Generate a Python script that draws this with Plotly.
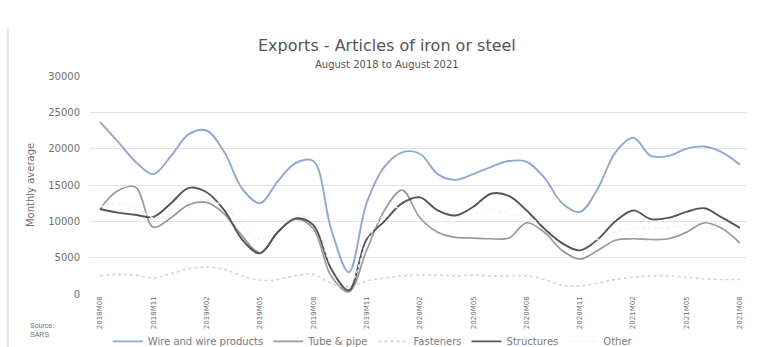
import plotly.graph_objects as go

# Months from August 2018 to August 2021 (37 monthly points)
months = list(range(37))
tick_positions = list(range(0, 37, 3))
tick_labels = ["2018M08", "2018M11", "2019M02", "2019M05", "2019M08", "2019M11",
               "2020M02", "2020M05", "2020M08", "2020M11", "2021M02", "2021M05", "2021M08"]

wire = [23700, 21000, 18200, 16500, 19000, 22000, 22500, 19500, 14500, 12500,
        15500, 18000, 18300, 9000, 3000, 12500, 17500, 19500, 19300, 16500,
        15700, 16500, 17500, 18300, 18200, 16000, 12500, 11300, 14500, 19500,
        21500, 19000, 19000, 20000, 20300, 19500, 17800]
tube = [11700, 14200, 14700, 9200, 10500, 12300, 12600, 11000, 8000, 5700,
        8500, 10300, 9000, 2500, 300, 6000, 11500, 14300, 10500, 8500,
        7800, 7700, 7600, 7700, 9800, 8500, 6000, 4800, 6000, 7400,
        7600, 7500, 7600, 8500, 9800, 9000, 7000]
fasteners = [2500, 2700, 2600, 2200, 2800, 3500, 3700, 3400, 2500, 1900,
             2000, 2500, 2700, 1500, 1000, 1800, 2200, 2500, 2600, 2600,
             2500, 2600, 2500, 2500, 2500, 2000, 1200, 1100, 1500, 2000,
             2300, 2500, 2500, 2300, 2100, 2000, 2000]
structures = [11700, 11200, 10900, 10600, 12500, 14600, 14000, 11500, 7500, 5600,
              8500, 10400, 9500, 3500, 500, 7500, 10000, 12500, 13300, 11500,
              10800, 12000, 13800, 13500, 11500, 9000, 7000, 6000, 7500, 10000,
              11500, 10300, 10500, 11300, 11800, 10500, 9100]
other = [12000, 12500, 12000, 10500, 11000, 12500, 13000, 12000, 9500, 7500,
         9000, 10800, 10000, 4000, 1200, 7000, 11000, 12000, 11000, 10000,
         10500, 11000, 11500, 11000, 10500, 9500, 7500, 6500, 7500, 8500,
         9000, 9000, 9200, 9500, 10000, 9500, 8500]

series = [
    ("Wire and wire products", wire, "#8fa9d3", 1.9, "solid"),
    ("Tube & pipe", tube, "#9a9a9a", 1.7, "solid"),
    ("Fasteners", fasteners, "#d4d4d4", 1.6, "dot"),
    ("Structures", structures, "#555555", 1.9, "solid"),
    ("Other", other, "#f1f1f1", 1.2, "dot"),
]

fig = go.Figure()
for name, vals, color, width, dash in series:
    fig.add_trace(go.Scatter(
        x=months, y=vals, name=name, mode="lines",
        line=dict(color=color, width=width, shape="spline", smoothing=1.0, dash=dash),
    ))

font_family = "DejaVu Sans, Liberation Sans, sans-serif"

fig.update_layout(
    width=759, height=347,
    margin=dict(l=90, r=12, t=76, b=53, autoexpand=False),
    paper_bgcolor="white", plot_bgcolor="white",
    font=dict(family=font_family, color="#595959", size=9),
    showlegend=True,
    legend=dict(orientation="h", x=0.027, xanchor="left",
                yref="container", y=0.058, yanchor="top",
                font=dict(size=10, color="#7a7a7a"), bgcolor="rgba(0,0,0,0)",
                itemwidth=30, tracegroupgap=0),
    xaxis=dict(range=[-0.56, 36.4], tickvals=tick_positions, ticktext=tick_labels,
               tickangle=-90, tickfont=dict(size=7, color="#707070"), automargin=False,
               showgrid=False, zeroline=False, showline=False, ticks=""),
    yaxis=dict(range=[0, 30000], dtick=5000, tickformat="d", automargin=False,
               tickfont=dict(size=10, color="#707070"), ticklabelstandoff=9,
               gridcolor="#e3e3e3", gridwidth=1, zeroline=False, showline=False),
    annotations=[
        dict(text="Exports - Articles of iron or steel", xref="paper", yref="paper",
             x=0.452, y=1.142, showarrow=False, xanchor="center", yanchor="middle",
             font=dict(size=16, color="#555555")),
        dict(text="August 2018 to August 2021", xref="paper", yref="paper",
             x=0.452, y=1.055, showarrow=False, xanchor="center", yanchor="middle",
             font=dict(size=10, color="#555555")),
        dict(text="Monthly average", xref="paper", yref="paper",
             x=-0.0913, y=0.5, showarrow=False, xanchor="center", yanchor="middle",
             textangle=-90, font=dict(size=10, color="#707070")),
        dict(text="Source:<br>SARS", xref="paper", yref="paper",
             x=-0.094, y=-0.165, showarrow=False, xanchor="left", yanchor="middle",
             align="left", font=dict(size=7, color="#707070",
                                     family="Liberation Sans, Arial, sans-serif")),
    ],
    shapes=[
        dict(type="line", xref="paper", yref="paper", x0=-0.125, x1=-0.125,
             y0=-0.26, y1=1.22, line=dict(color="#e6e6e6", width=2)),
    ],
)

fig.write_html("out.html")
